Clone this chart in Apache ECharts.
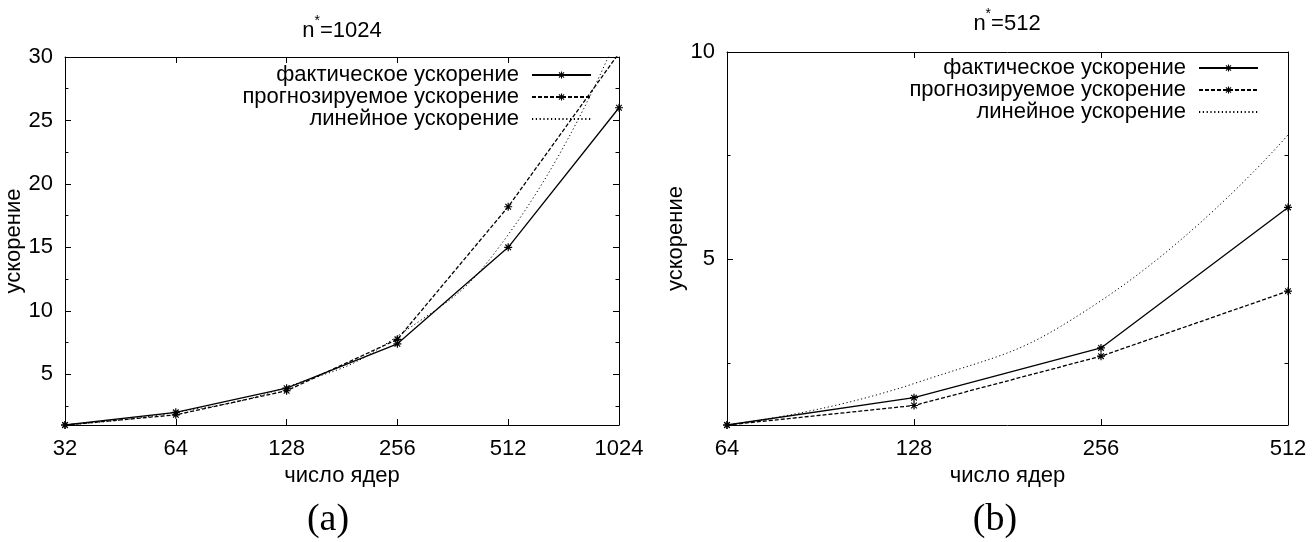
<!DOCTYPE html>
<html><head><meta charset="utf-8">
<script src="https://cdn.jsdelivr.net/npm/echarts@6/dist/echarts.min.js"></script>
<style>html,body{margin:0;padding:0;background:#fff}#c{width:1315px;height:542px}</style>
</head><body><div id="c"></div>
<script>
// ---- data ----
const coresA = [32, 64, 128, 256, 512, 1024];
const actualA = [1, 2.0, 3.9, 7.4, 15.0, 26.0];
const predictedA = [1, 1.8, 3.7, 7.75, 18.2, 30.3];
const linearA = [1, 2, 4, 8, 16, 32];
const coresB = [64, 128, 256, 512];
const actualB = [1, 1.66, 2.86, 6.25];
const predictedB = [1, 1.47, 2.66, 4.23];
const linearB = [1, 2, 4, 8];
const yLabelsA = [5, 10, 15, 20, 25, 30];
const yMinorA = [2.5, 7.5, 12.5, 17.5, 22.5, 27.5];
const yLabelsB = [5, 10];
const yMinorB = [2.5, 7.5];
const names = ['фактическое ускорение', 'прогнозируемое ускорение', 'линейное ускорение'];
const titleA = 'n*=1024', titleB = 'n*=512';
const xName = 'число ядер', yName = 'ускорение';

// ---- styling ----
const FONT = 'Liberation Sans';
const FS = 22;
const STAR = 'path://M-1.5,-10 L1.5,-10 L1.5,10 L-1.5,10 Z M-10,-1.5 L10,-1.5 L10,1.5 L-10,1.5 Z ' +
  'M-6,-8.1 L8.1,6 L6,8.1 L-8.1,-6 Z M-8.1,6 L6,-8.1 L8.1,-6 L-6,8.1 Z';
const lineStyles = [
  {color: '#000', width: 1.3, type: 'solid'},
  {color: '#000', width: 1.3, type: [4, 2]},
  {color: '#000', width: 1, type: [1.2, 2.6]}
];
const txt = {fontFamily: FONT, fontSize: FS, color: '#000'};

function pairs(xs, ys) { return xs.map((x, i) => [x, ys[i]]); }

function xAxes(grid, min, max) {
  return [
    {gridIndex: grid, type: 'log', logBase: 2, min: min, max: max, position: 'bottom',
     axisLine: {lineStyle: {color: '#000', width: 1}},
     axisTick: {inside: true, length: 6, lineStyle: {color: '#000'}},
     axisLabel: Object.assign({margin: 13, formatter: v => String(Math.round(v))}, txt),
     splitLine: {show: false},
     name: xName, nameLocation: 'middle', nameGap: 36, nameTextStyle: txt},
    {gridIndex: grid, type: 'log', logBase: 2, min: min, max: max, position: 'top',
     axisLine: {lineStyle: {color: '#000', width: 1}},
     axisTick: {inside: true, length: 6, lineStyle: {color: '#000'}},
     axisLabel: {show: false}, splitLine: {show: false}}
  ];
}
function yAxes(grid, max, labels, minor, nameGap) {
  const base = {gridIndex: grid, type: 'value', min: 1, max: max, splitLine: {show: false}};
  return [
    Object.assign({}, base, {position: 'left',
      axisLine: {show: true, lineStyle: {color: '#000', width: 1}},
      axisTick: {show: true, inside: true, length: 6, customValues: labels, lineStyle: {color: '#000'}},
      axisLabel: Object.assign({customValues: labels, margin: 12}, txt),
      name: yName, nameLocation: 'middle', nameGap: nameGap, nameTextStyle: txt}),
    Object.assign({}, base, {position: 'left', axisLine: {show: false},
      axisTick: {show: true, inside: true, length: 3.5, customValues: minor, lineStyle: {color: '#000'}},
      axisLabel: {show: false}}),
    Object.assign({}, base, {position: 'right',
      axisLine: {show: true, lineStyle: {color: '#000', width: 1}},
      axisTick: {show: true, inside: true, length: 6, customValues: labels, lineStyle: {color: '#000'}},
      axisLabel: {show: false}}),
    Object.assign({}, base, {position: 'right', axisLine: {show: false},
      axisTick: {show: true, inside: true, length: 3.5, customValues: minor, lineStyle: {color: '#000'}},
      axisLabel: {show: false}})
  ];
}
function series(xi, yi, xs, act, pred, lin) {
  const common = {type: 'line', xAxisIndex: xi, yAxisIndex: yi, clip: true, animation: false,
    emphasis: {disabled: true}};
  return [
    Object.assign({}, common, {name: names[0], data: pairs(xs, act), symbol: STAR, symbolSize: 8,
      itemStyle: {color: '#000'}, lineStyle: lineStyles[0]}),
    Object.assign({}, common, {name: names[1], data: pairs(xs, pred), symbol: STAR, symbolSize: 8,
      itemStyle: {color: '#000'}, lineStyle: lineStyles[1]}),
    Object.assign({}, common, {name: names[2], data: pairs(xs, lin), symbol: 'none', smooth: true,
      itemStyle: {color: 'rgba(0,0,0,0)'}, lineStyle: lineStyles[2]})
  ];
}
function legend(right, top) {
  return {data: names, orient: 'vertical', align: 'right', right: right, top: top, padding: 0,
    itemWidth: 59, itemHeight: 9, itemGap: 0, selectedMode: false,
    textStyle: Object.assign({padding: [0, 8, 0, 0], lineHeight: 22}, txt)};
}
function title(text, x, y) {
  const parts = text.split('*');
  return {type: 'text', x: x, y: y, style: {
    text: '{n|' + parts[0] + '}{s|*}{n|' + parts[1] + '}', align: 'center', verticalAlign: 'middle',
    rich: {
      n: {fontFamily: FONT, fontSize: FS, fill: '#000', color: '#000', lineHeight: 28, verticalAlign: 'bottom'},
      s: {fontFamily: FONT, fontSize: 14, fill: '#000', color: '#000', lineHeight: 14, verticalAlign: 'top'}
    }}};
}

const chart = echarts.init(document.getElementById('c'), null, {renderer: 'canvas'});
chart.setOption({
  backgroundColor: '#fff',
  animation: false,
  grid: [
    {left: 65, top: 57, width: 554, height: 368},
    {left: 727, top: 52, width: 561, height: 373}
  ],
  xAxis: [].concat(xAxes(0, 32, 1024), xAxes(1, 64, 512)),
  yAxis: [].concat(yAxes(0, 30, yLabelsA, yMinorA, 37), yAxes(1, 10, yLabelsB, yMinorB, 38)),
  legend: [legend(723, 64), legend(56, 57)],
  series: [].concat(series(0, 0, coresA, actualA, predictedA, linearA),
                    series(2, 4, coresB, actualB, predictedB, linearB)),
  graphic: [
    title(titleA, 342, 28),
    title(titleB, 1007, 21),
    {type: 'text', x: 328, y: 520, style: {text: '(a)', fontFamily: 'Liberation Serif', fontSize: 38, fill: '#000', align: 'center', verticalAlign: 'middle'}},
    {type: 'text', x: 995, y: 520, style: {text: '(b)', fontFamily: 'Liberation Serif', fontSize: 38, fill: '#000', align: 'center', verticalAlign: 'middle'}}
  ]
});
</script></body></html>
